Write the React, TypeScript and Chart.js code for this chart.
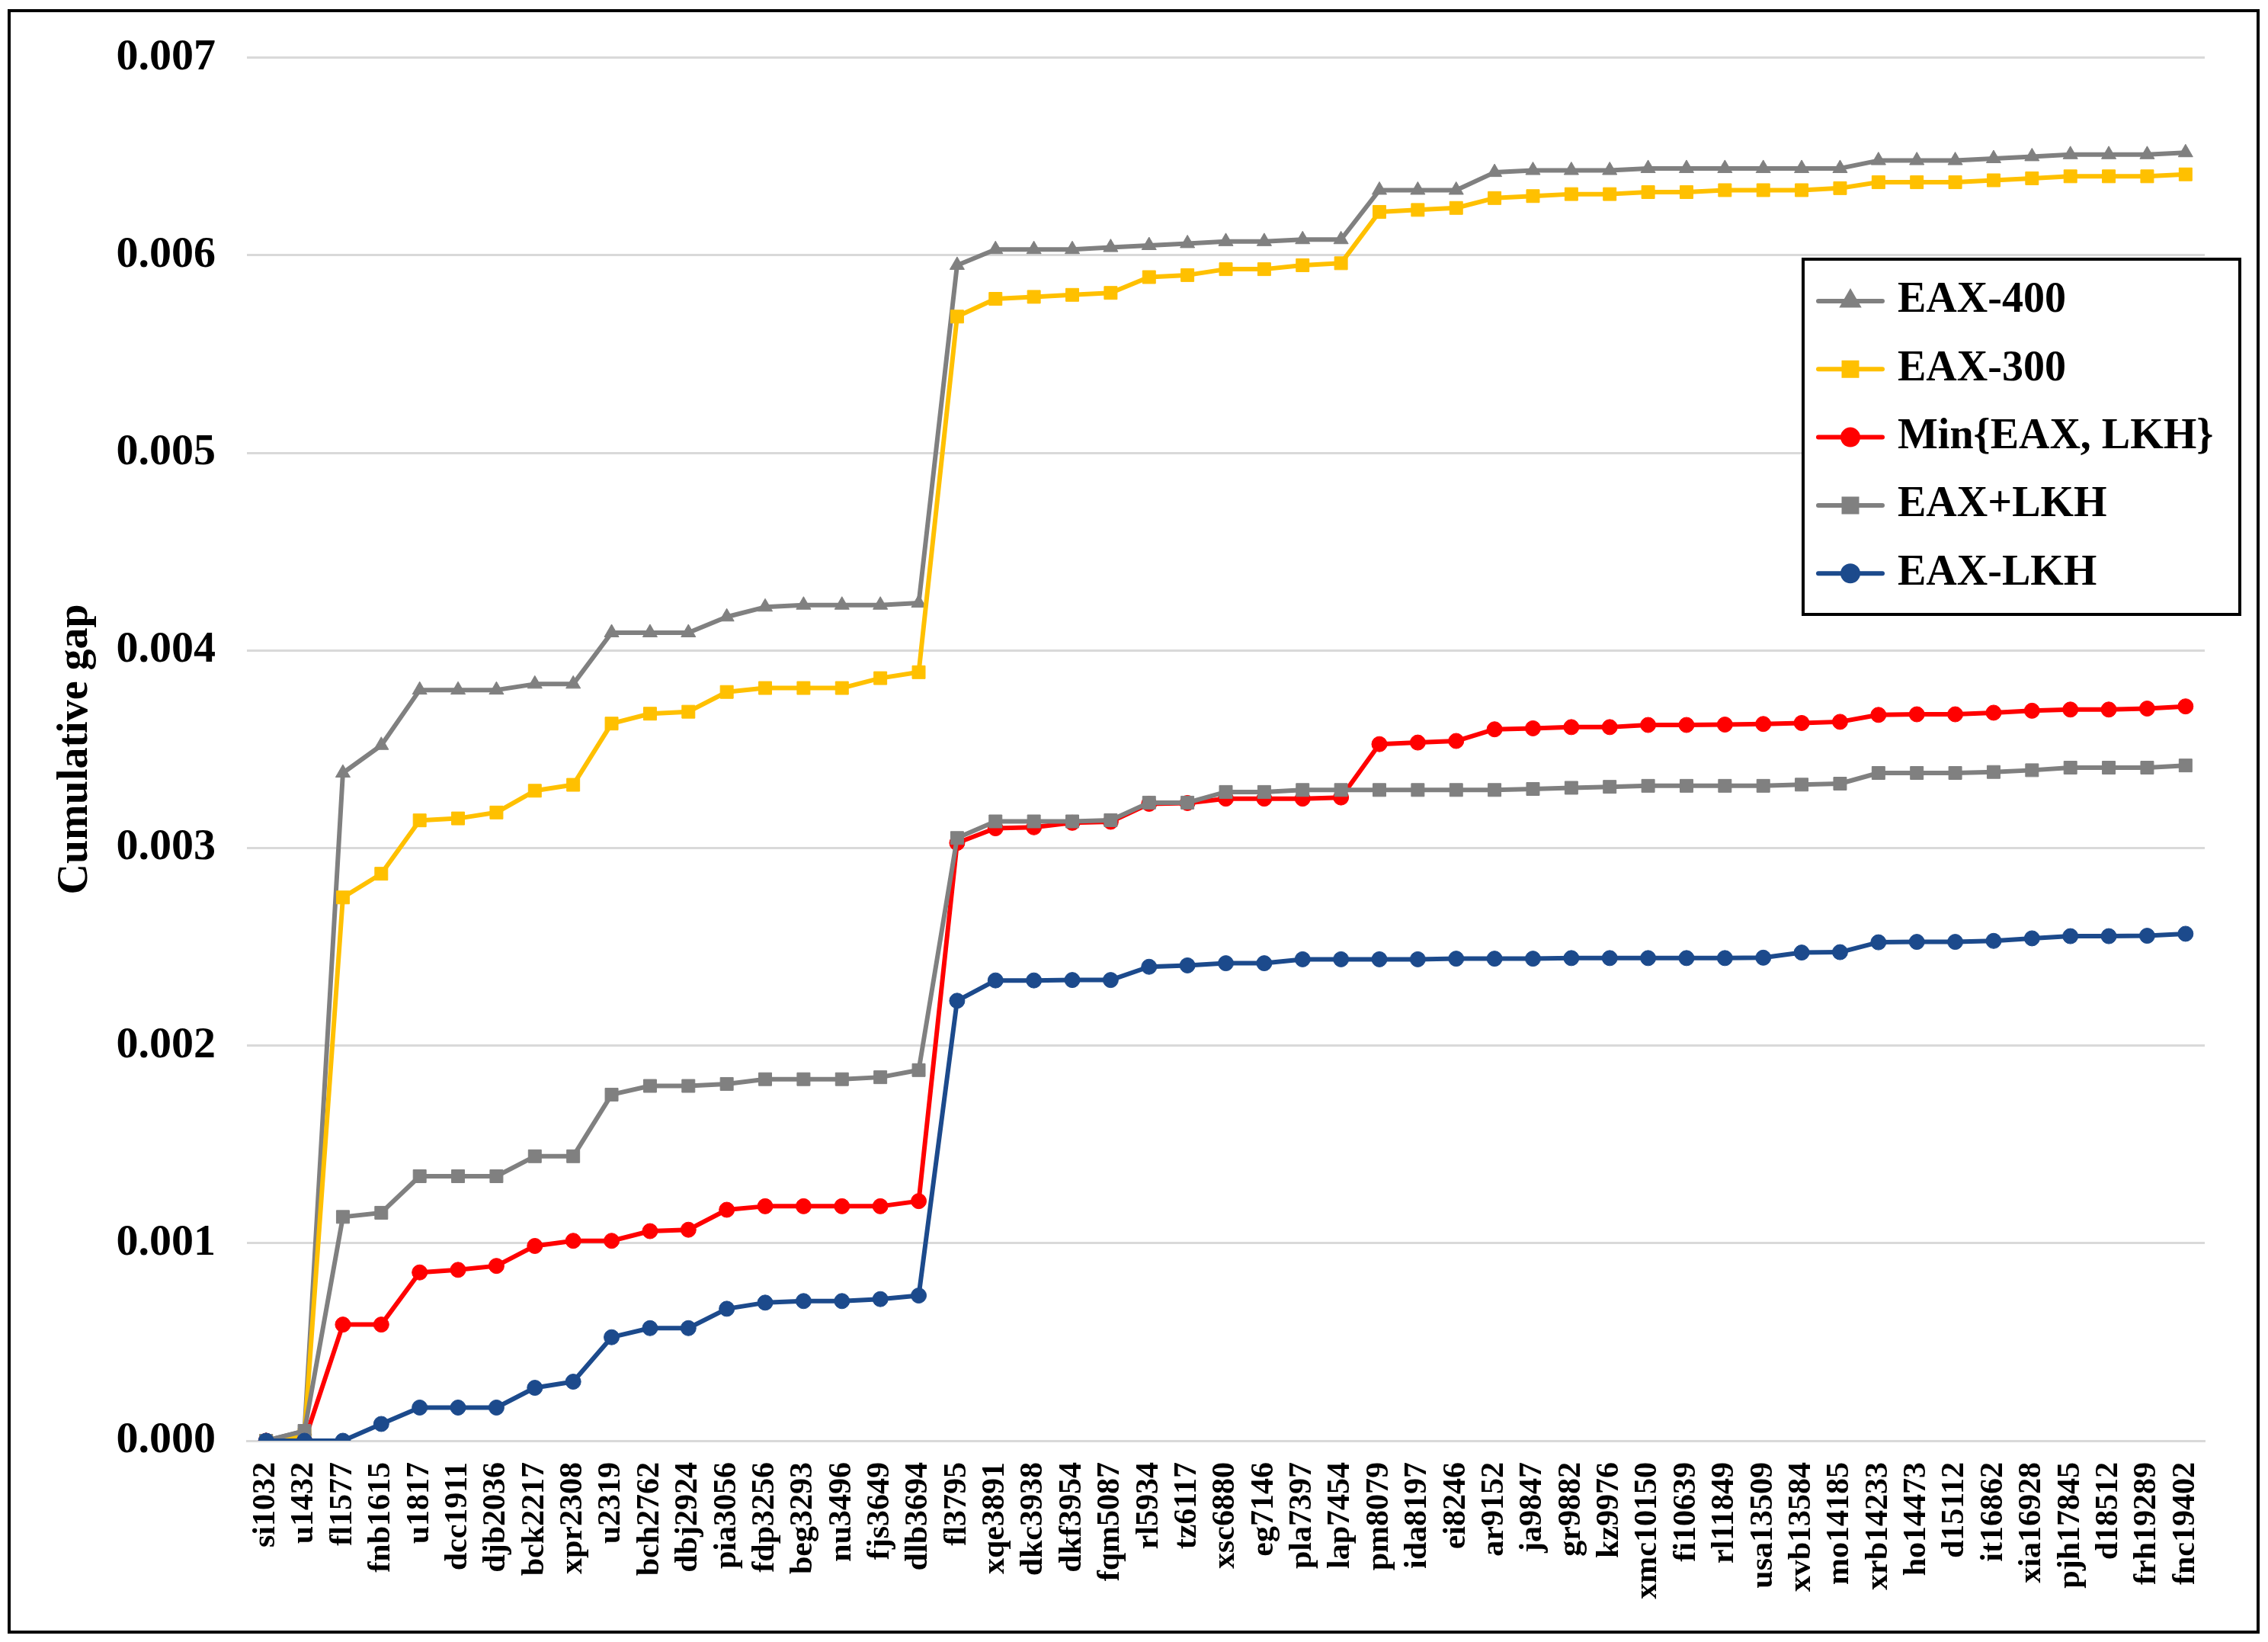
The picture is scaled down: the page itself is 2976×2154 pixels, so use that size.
import React, { useRef, useEffect } from 'react';
import { Chart, registerables } from 'chart.js';
import { drawPoint } from 'chart.js/helpers';

Chart.register(...registerables);

const FONT = '"Liberation Serif", "Times New Roman", serif';

const instances = [
  'si1032', 'u1432', 'fl1577', 'fnb1615', 'u1817', 'dcc1911', 'djb2036', 'bck2217', 'xpr2308', 'u2319',
  'bch2762', 'dbj2924', 'pia3056', 'fdp3256', 'beg3293', 'nu3496', 'fjs3649', 'dlb3694', 'fl3795', 'xqe3891',
  'dkc3938', 'dkf3954', 'fqm5087', 'rl5934', 'tz6117', 'xsc6880', 'eg7146', 'pla7397', 'lap7454', 'pm8079',
  'ida8197', 'ei8246', 'ar9152', 'ja9847', 'gr9882', 'kz9976', 'xmc10150', 'fi10639', 'rl11849', 'usa13509',
  'xvb13584', 'mo14185', 'xrb14233', 'ho14473', 'd15112', 'it16862', 'xia16928', 'pjh17845', 'd18512', 'frh19289',
  'fnc19402',
];

const eax400 = [
  0, 0.00005, 0.00338, 0.00352, 0.0038, 0.0038, 0.0038, 0.00383, 0.00383, 0.00409,
  0.00409, 0.00409, 0.00417, 0.00422, 0.00423, 0.00423, 0.00423, 0.00424, 0.00595, 0.00603,
  0.00603, 0.00603, 0.00604, 0.00605, 0.00606, 0.00607, 0.00607, 0.00608, 0.00608, 0.00633,
  0.00633, 0.00633, 0.00642, 0.00643, 0.00643, 0.00643, 0.00644, 0.00644, 0.00644, 0.00644,
  0.00644, 0.00644, 0.00648, 0.00648, 0.00648, 0.00649, 0.0065, 0.00651, 0.00651, 0.00651,
  0.00652,
];

const eax300 = [
  0, 0.00003, 0.00275, 0.00287, 0.00314, 0.00315, 0.00318, 0.00329, 0.00332, 0.00363,
  0.00368, 0.00369, 0.00379, 0.00381, 0.00381, 0.00381, 0.00386, 0.00389, 0.00569, 0.00578,
  0.00579, 0.0058, 0.00581, 0.00589, 0.0059, 0.00593, 0.00593, 0.00595, 0.00596, 0.00622,
  0.00623, 0.00624, 0.00629, 0.0063, 0.00631, 0.00631, 0.00632, 0.00632, 0.00633, 0.00633,
  0.00633, 0.00634, 0.00637, 0.00637, 0.00637, 0.00638, 0.00639, 0.0064, 0.0064, 0.0064,
  0.00641,
];

const minEaxLkh = [
  0, 0, 0.000588, 0.000588, 0.000852, 0.000865, 0.000885, 0.000986, 0.001012, 0.001012,
  0.001061, 0.001068, 0.001169, 0.001187, 0.001187, 0.001187, 0.001187, 0.001213, 0.003026, 0.0031,
  0.003105, 0.003128, 0.003133, 0.003224, 0.003228, 0.00325, 0.00325, 0.00325, 0.003256, 0.003526,
  0.003534, 0.003542, 0.003601, 0.003606, 0.003612, 0.003612, 0.003623, 0.003623, 0.003625, 0.003628,
  0.003633, 0.003639, 0.003674, 0.003677, 0.003677, 0.003685, 0.003695, 0.003701, 0.003701, 0.003706,
  0.003717,
];

const eaxPlusLkh = [
  0, 0.00005, 0.001133, 0.001154, 0.001339, 0.001339, 0.001339, 0.00144, 0.00144, 0.001752,
  0.001796, 0.001796, 0.001806, 0.00183, 0.00183, 0.00183, 0.00184, 0.001876, 0.003051, 0.003135,
  0.003135, 0.003135, 0.003141, 0.00323, 0.00323, 0.003284, 0.003284, 0.003294, 0.003294, 0.003294,
  0.003294, 0.003294, 0.003294, 0.003299, 0.003305, 0.00331, 0.003315, 0.003315, 0.003315, 0.003315,
  0.003321, 0.003326, 0.00338, 0.00338, 0.00338, 0.003385, 0.003394, 0.003407, 0.003407, 0.003407,
  0.003418,
];

const eaxLkh = [
  0, 0, 0, 0.000085, 0.000168, 0.000168, 0.000168, 0.000268, 0.000299, 0.000524,
  0.00057, 0.00057, 0.000668, 0.000699, 0.000707, 0.000707, 0.000717, 0.000735, 0.002227, 0.00233,
  0.00233, 0.002332, 0.002332, 0.002399, 0.002406, 0.002417, 0.002417, 0.002437, 0.002437, 0.002437,
  0.002437, 0.00244, 0.00244, 0.00244, 0.002443, 0.002443, 0.002443, 0.002443, 0.002443, 0.002445,
  0.002471, 0.002473, 0.002523, 0.002525, 0.002525, 0.00253, 0.002543, 0.002554, 0.002554, 0.002556,
  0.002566,
];

const seriesNames = ['EAX-400', 'EAX-300', 'Min{EAX, LKH}', 'EAX+LKH', 'EAX-LKH'];
const seriesValues = [eax400, eax300, minEaxLkh, eaxPlusLkh, eaxLkh];
const seriesColors = ['#808080', '#FFC000', '#FF0000', '#808080', '#1C4A8C'];
const seriesMarkers = ['triangle', 'rect', 'circle', 'rect', 'circle'];
const markerRadius: Record<string, number> = { triangle: 11, rect: 12, circle: 10 };

// legend box drawn inside the plot, with a black frame like the original
const boxLegend = {
  id: 'boxLegend',
  afterDraw(chart: Chart) {
    const { ctx } = chart;
    const bx = 2366, by = 340, bw = 573, bh = 466;
    ctx.save();
    ctx.fillStyle = '#ffffff';
    ctx.fillRect(bx, by, bw, bh);
    ctx.lineWidth = 4;
    ctx.strokeStyle = '#000000';
    ctx.strokeRect(bx, by, bw, bh);
    chart.data.datasets.forEach((ds: any, i: number) => {
      const y = 395 + i * 89.3;
      ctx.strokeStyle = ds.borderColor;
      ctx.fillStyle = ds.borderColor;
      ctx.lineWidth = 6;
      ctx.lineCap = 'round';
      ctx.beginPath();
      ctx.moveTo(2386, y);
      ctx.lineTo(2470, y);
      ctx.stroke();
      drawPoint(ctx, { pointStyle: ds.pointStyle, radius: ds.pointRadius, borderWidth: 1, rotation: 0 } as any, 2428, y);
      ctx.fillStyle = '#000000';
      ctx.font = `bold 56px ${FONT}`;
      ctx.textBaseline = 'middle';
      ctx.textAlign = 'left';
      ctx.fillText(ds.label, 2490, y);
    });
    ctx.restore();
  },
};

const GapChart: React.FC = () => {
  const canvasRef = useRef<HTMLCanvasElement>(null);

  useEffect(() => {
    if (!canvasRef.current) return;
    const chart = new Chart(canvasRef.current, {
      type: 'line',
      data: {
        labels: instances,
        datasets: seriesNames.map((name, i) => ({
          label: name,
          data: seriesValues[i],
          borderColor: seriesColors[i],
          backgroundColor: seriesColors[i],
          pointBackgroundColor: seriesColors[i],
          pointBorderColor: seriesColors[i],
          pointStyle: seriesMarkers[i] as any,
          pointRadius: markerRadius[seriesMarkers[i]],
          pointBorderWidth: 1,
          borderWidth: 6,
          borderJoinStyle: 'round' as const,
          fill: false,
          tension: 0,
          order: seriesNames.length - i, // later series on top, as in the original
        })),
      },
      options: {
        responsive: false,
        animation: false,
        layout: { padding: { left: 0, top: 69, right: 83, bottom: 0 } },
        plugins: {
          legend: { display: false },
          title: { display: false },
          tooltip: { enabled: false },
        },
        scales: {
          x: {
            offset: true,
            grid: { display: false, drawTicks: false },
            border: { display: true, color: '#d9d9d9', width: 3 },
            ticks: {
              autoSkip: false,
              minRotation: 90,
              maxRotation: 90,
              padding: 28,
              color: '#000000',
              font: { family: FONT, size: 42, weight: 'bold' },
            },
            afterFit: (s: any) => {
              s.height = 264;
            },
          },
          y: {
            min: 0,
            max: 0.007,
            grid: { color: '#d9d9d9', lineWidth: 3, drawTicks: false },
            border: { display: false },
            ticks: {
              stepSize: 0.001,
              padding: 41,
              color: '#000000',
              font: { family: FONT, size: 58, weight: 'bold' },
              callback: (v: any) => Number(v).toFixed(3),
            },
            title: {
              display: true,
              text: 'Cumulative gap',
              color: '#000000',
              font: { family: FONT, size: 56, weight: 'bold' },
              padding: { top: 66, bottom: 0 },
            },
            afterFit: (s: any) => {
              s.width = 324;
            },
          },
        },
      },
      plugins: [boxLegend],
    });

    return () => {
      chart.destroy();
    };
  }, []);

  return (
    <canvas
      ref={canvasRef}
      width={2976}
      height={2154}
      style={{ position: 'absolute', left: 0, top: 0, width: 2976, height: 2154 }}
    ></canvas>
  );
};

const App: React.FC = () => (
  <div style={{ position: 'fixed', left: 0, top: 0, width: 2976, height: 2154, background: '#ffffff', overflow: 'hidden' }}>
    <div
      style={{
        position: 'absolute',
        left: 10,
        top: 12,
        width: 2955,
        height: 2131,
        border: '4px solid #000000',
        boxSizing: 'border-box',
      }}
    />
    <GapChart />
  </div>
);

export default App;
